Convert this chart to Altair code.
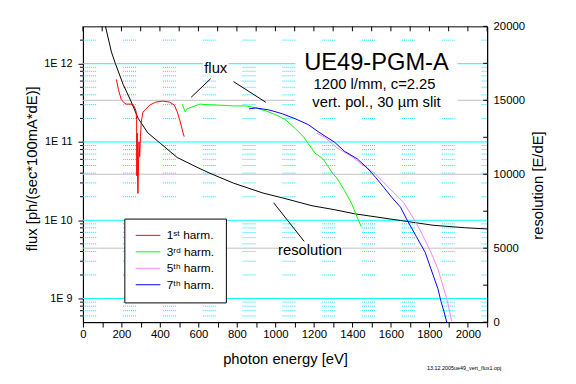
import altair as alt
import pandas as pd

FONT = "Liberation Sans"
W, H = 410, 300

# ---- axis / grid values ----
x_ticks = list(range(0, 2101, 100))
flux_major = [1e9, 1e10, 1e11, 1e12]
flux_minor = [6e8, 7e8, 8e8, 9e8,
              2e9, 3e9, 4e9, 5e9, 6e9, 7e9, 8e9, 9e9,
              2e10, 3e10, 4e10, 5e10, 6e10, 7e10, 8e10, 9e10,
              2e11, 3e11, 4e11, 5e11, 6e11, 7e11, 8e11, 9e11,
              2e12]
res_labels = [0, 5000, 10000, 15000, 20000]
res_grid = [5000, 10000, 15000]
res_ticks = [0, 2500, 5000, 7500, 10000, 12500, 15000, 17500, 20000]

# ---- series ----
e1 = [174, 184, 199, 212, 225, 250, 263, 272, 276, 279, 280, 282, 284, 286, 291, 295, 299, 303,
      312, 327, 347, 378, 414, 450, 475, 490, 506, 516, 526]
f1 = [6.3e11, 4.7e11, 3.5e11, 3.2e11, 3.05e11, 3.05e11, 2.95e11, 2.65e11, 2.45e11, 1.95e11, 3.7e10,
      1.3e11, 3.0e10, 2.2e10, 1.0e11, 6.5e10, 1.17e11, 1.8e11, 2.42e11, 2.63e11, 2.96e11, 3.23e11,
      3.33e11, 3.23e11, 2.96e11, 2.42e11, 1.8e11, 1.43e11, 1.17e11]

e3 = [516, 531, 541, 567, 608, 640, 679, 720, 782, 848, 899, 950, 1001, 1052, 1103, 1144, 1170,
      1206, 1246, 1272, 1298, 1318, 1359, 1395, 1420, 1446]
f3 = [3.05e11, 2.43e11, 2.65e11, 2.8e11, 3.05e11, 3.0e11, 2.97e11, 2.95e11, 2.89e11, 2.89e11,
      2.72e11, 2.5e11, 2.23e11, 1.93e11, 1.49e11, 1.18e11, 9.6e10, 7.2e10, 6.1e10, 4.95e10,
      3.93e10, 3.5e10, 2.4e10, 1.65e10, 1.17e10, 8.3e9]

e5 = [1216, 1257, 1323, 1395, 1446, 1512, 1563, 1614, 1665, 1706, 1742, 1768, 1808, 1844, 1870,
      1890, 1905, 1916]
f5 = [1.29e11, 1.15e11, 8.3e10, 6.6e10, 5.25e10, 4.05e10, 3.03e10, 2.27e10, 1.7e10, 1.17e10,
      8.3e9, 6.2e9, 3.9e9, 2.39e9, 1.46e9, 1.0e9, 6.9e8, 5.1e8]

e7 = [863, 899, 966, 1037, 1103, 1170, 1221, 1308, 1359, 1425, 1476, 1522, 1563, 1604, 1650, 1681,
      1732, 1778, 1808, 1844, 1860, 1875, 1890]
f7 = [2.65e11, 2.72e11, 2.57e11, 2.29e11, 1.98e11, 1.67e11, 1.36e11, 9.9e10, 7.6e10, 6.1e10,
      4.68e10, 3.5e10, 2.63e10, 1.97e10, 1.47e10, 1.04e10, 6.2e9, 3.9e9, 2.39e9, 1.34e9, 9.2e8,
      6.9e8, 5.0e8]

e_res = [117, 148, 169, 209, 250, 286, 337, 404, 490, 593, 659, 782, 935, 1037, 1190, 1308, 1410,
         1650, 1819, 1987, 2100]
r_res = [20000, 18270, 17470, 16070, 14930, 13800, 12800, 12070, 11130, 10470, 10070, 9400, 8730,
         8400, 7870, 7600, 7330, 6870, 6550, 6380, 6300]

labels = ["1\u02e2\u1d57 harm.", "3\u02b3\u1d48 harm.", "5\u1d57\u02b0 harm.", "7\u1d57\u02b0 harm."]
colors = ["#ff0000", "#00ff00", "#ff80ff", "#0000ff"]

# ---- annotations (data coordinates: energy, resolution) ----
box_e0 = [1103, 623, 1017]
box_e1 = [1946, 756, 1344]
box_r0 = [18667, 17867, 5400]
box_r1 = [14133, 16667, 4467]

txt = ["UE49-PGM-A", "1200 l/mm, c=2.25", "vert. pol., 30 \u00b5m slit", "flux", "resolution"]
txt_e = [1525, 1515, 1525, 690, 1180]
txt_r = [17067, 15733, 14533, 16867, 4533]
txt_s = [24, 15, 15, 15, 15]

ptr_e0 = [562, 782, 991]
ptr_e1 = [664, 950, 1149]
ptr_r0 = [15200, 16267, 8067]
ptr_r1 = [16467, 14867, 5467]

footnote = "13.12.2005ue49_vert_flux1.opj"

# ---- tables ----
rows = []
for lab, es, fs_ in zip(labels, [e1, e3, e5, e7], [f1, f3, f5, f7]):
    for i, (e, f) in enumerate(zip(es, fs_)):
        rows.append({"series": lab, "e": e, "f": f, "i": i})
df_curves = pd.DataFrame(rows)
df_res = pd.DataFrame({"e": e_res, "r": r_res})
df_box = pd.DataFrame({"e0": box_e0, "e1": box_e1, "r0": box_r0, "r1": box_r1})
df_txt = pd.DataFrame({"t": txt, "e": txt_e, "r": txt_r, "s": txt_s})
df_ptr = pd.DataFrame({"e0": ptr_e0, "e1": ptr_e1, "r0": ptr_r0, "r1": ptr_r1})

xs = alt.Scale(domain=[0, 2100], nice=False)
fsc = alt.Scale(type="log", domain=[5e8, 3e12], nice=False)
rsc = alt.Scale(domain=[0, 20000], nice=False)

x_axis = alt.Axis(values=x_ticks, format="d",
                  labelExpr="datum.value % 200 == 0 && datum.value <= 2000 ? datum.label : ''",
                  tickSize=5, labelPadding=2, labelFlush=False, labelOverlap=False,
                  labelFontSize=11.5, title="photon energy [eV]", titleFontSize=15,
                  titleY=42, titleBaseline="alphabetic", grid=False)
flux_axis = alt.Axis(orient="left", values=flux_major,
                     labelExpr="'1E ' + round(log(datum.value)/LN10)",
                     tickSize=5, labelPadding=6, labelFlush=False, labelOverlap=False,
                     labelFontSize=11, title="flux [ph/(sec*100mA*dE)]", titleFontSize=15,
                     titleAngle=270, titleX=-47, titleY=144, titleAlign="center",
                     titleBaseline="alphabetic", grid=False)
res_axis = alt.Axis(orient="right", values=res_labels, format="d", ticks=False, tickSize=0,
                    labelPadding=6, labelFlush=False, labelOverlap=False, labelFontSize=11.5,
                    title="resolution [E/dE]", titleFontSize=15, titleAngle=270, titleX=56,
                    titleY=161, titleAlign="center", titleBaseline="alphabetic", grid=False)

legend = alt.Legend(orient="none", legendX=42, legendY=195, title=None, strokeColor="black",
                    fillColor="white", padding=11, symbolType="stroke", symbolSize=625,
                    symbolStrokeWidth=1, clipHeight=12, rowPadding=4.7, labelFontSize=12,
                    labelOffset=6, labelColor="black", labelFont=FONT)


def X(field):
    return alt.X(field, scale=xs, axis=x_axis)


cyan_grid = alt.Chart(pd.DataFrame({"v": flux_major})).mark_rule(color="#00ffff", strokeWidth=1).encode(
    y=alt.Y("v:Q", scale=fsc, axis=None))
dotted_grid = alt.Chart(pd.DataFrame({"v": flux_minor})).mark_rule(
    color="#00e0ff", strokeWidth=1,
    strokeDash=[1, 1, 1, 1, 1, 1, 1, 1, 1, 1, 1, 1, 1, 27.4], strokeDashOffset=7.4).encode(
    y=alt.Y("v:Q", scale=fsc, axis=None))
minor_ticks = alt.Chart(pd.DataFrame({"v": flux_minor})).mark_rule(color="black").encode(
    y=alt.Y("v:Q", scale=fsc, axis=None), x=alt.value(-3), x2=alt.value(0))
gray_grid = alt.Chart(pd.DataFrame({"v": res_grid})).mark_rule(color="#c0c0c0", strokeWidth=1).encode(
    y=alt.Y("v:Q", scale=rsc, axis=None))
right_ticks = alt.Chart(pd.DataFrame({"v": res_ticks})).mark_rule(color="black").encode(
    y=alt.Y("v:Q", scale=rsc, axis=None), x=alt.value(W - 4), x2=alt.value(W))
top_ticks = alt.Chart(pd.DataFrame({"v": x_ticks})).mark_rule(color="black").encode(
    x=X("v:Q"), y=alt.value(0), y2=alt.value(5))

boxes = alt.Chart(df_box).mark_rect(color="white").encode(
    x=X("e0:Q"), x2="e1:Q",
    y=alt.Y("r0:Q", scale=rsc, axis=None), y2="r1:Q")

res_line = alt.Chart(df_res).mark_line(color="black", strokeWidth=1, clip=True).encode(
    x=X("e:Q"),
    y=alt.Y("r:Q", scale=rsc, axis=res_axis))

curves = alt.Chart(df_curves).mark_line(strokeWidth=1, clip=True).encode(
    x=X("e:Q"),
    y=alt.Y("f:Q", scale=fsc, axis=flux_axis),
    color=alt.Color("series:N", scale=alt.Scale(domain=labels, range=colors), legend=legend),
    order="i:Q")

pointers = alt.Chart(df_ptr).mark_rule(color="black", strokeWidth=1).encode(
    x=X("e0:Q"), x2="e1:Q",
    y=alt.Y("r0:Q", scale=rsc, axis=None), y2="r1:Q")

texts = alt.Chart(df_txt).mark_text(baseline="alphabetic", align="center", color="black",
                                     font=FONT).encode(
    x=X("e:Q"),
    y=alt.Y("r:Q", scale=rsc, axis=None),
    text="t:N",
    size=alt.Size("s:Q", scale=None, legend=None))

foot = alt.Chart(pd.DataFrame({"t": [footnote]})).mark_text(
    align="left", baseline="alphabetic", fontSize=5.5, color="black", font=FONT).encode(
    x=alt.value(349), y=alt.value(349), text="t:N")

chart = alt.layer(
    cyan_grid, dotted_grid, gray_grid, minor_ticks, right_ticks, top_ticks,
    boxes, res_line, curves, pointers, texts, foot
).resolve_scale(y="independent").properties(
    width=W, height=H,
    autosize=alt.AutoSizeParams(type="none"),
    padding={"left": 76, "top": 16, "right": 82, "bottom": 50},
    background="white",
).configure_view(stroke="black", strokeWidth=1).configure_axis(
    labelFont=FONT, titleFont=FONT, labelColor="black", titleColor="black",
    titleFontWeight="normal", domainColor="black", tickColor="black", grid=False
)

chart.save("out.html", embed_options={"renderer": "svg", "actions": False})
